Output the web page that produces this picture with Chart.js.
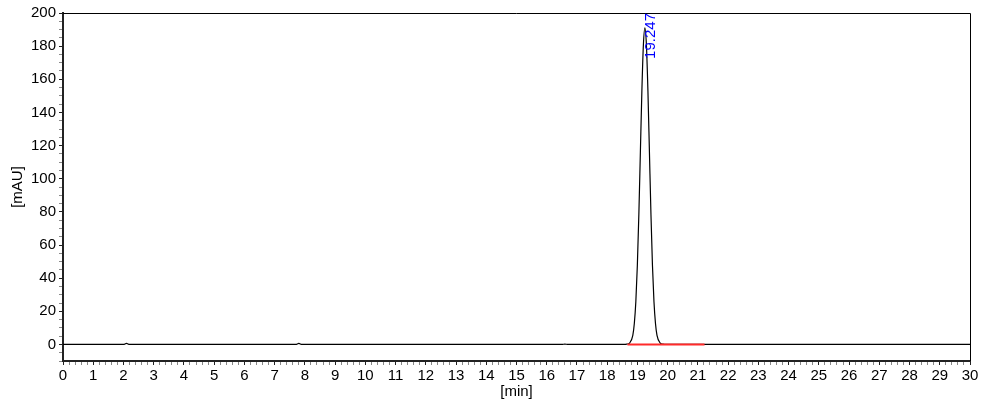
<!DOCTYPE html>
<html><head><meta charset="utf-8">
<script src="https://cdn.jsdelivr.net/npm/chart.js@4/dist/chart.umd.min.js"></script>
<style>html,body{margin:0;padding:0;background:#fff}#w{width:1002px;height:403px}</style>
</head><body><div id="w"><canvas id="c"></canvas></div>
<script>
const timeMin = [0, 2.0, 2.1, 2.2, 7.7, 7.8, 7.9, 16.5, 16.6, 16.7, 18.547, 18.647, 18.747, 18.847, 18.897, 18.947, 18.997, 19.047, 19.097, 19.147, 19.197, 19.247, 19.297, 19.347, 19.397, 19.447, 19.497, 19.547, 19.597, 19.647, 19.747, 19.847, 19.947, 30];
const signalMAU = [0, 0, 0.6, 0, 0, 0.6, 0, 0, 0.2, 0, 0, 0.2, 1.0, 5.5, 12.6, 25.8, 47.6, 78.5, 115.8, 153.0, 180.7, 191, 180.7, 153.0, 115.8, 78.5, 47.6, 25.8, 12.6, 5.5, 1.0, 0.2, 0, 0];
const baselineX = [18.67, 21.22];
const baselineY = [0, 0];
const peakLabels = [{t: 19.247, text: '19.247'}];
const xTicksMajor = 1, xTicksMinor = 0.2, yTicksMajor = 20, yTicksMinor = 5;

const isMult = (v, m) => Math.abs(v / m - Math.round(v / m)) < 1e-6;
const FONT = 'Liberation Sans, Arial, sans-serif';

const frame = {
  id: 'frame',
  afterDatasetsDraw(chart) {
    const {ctx, chartArea: a, scales} = chart;
    ctx.save();
    ctx.strokeStyle = '#000'; ctx.lineWidth = 1;
    ctx.beginPath();
    ctx.moveTo(a.left, a.top + 0.5); ctx.lineTo(a.right + 0.5, a.top + 0.5); ctx.lineTo(a.right + 0.5, a.bottom);
    ctx.stroke();
    ctx.fillStyle = '#0000ff';
    ctx.font = '15px ' + FONT;
    peakLabels.forEach(p => {
      const x = scales.x.getPixelForValue(p.t) + 6;
      ctx.save();
      ctx.translate(x, a.top);
      ctx.rotate(-Math.PI / 2);
      ctx.textAlign = 'right'; ctx.textBaseline = 'middle';
      ctx.fillText(p.text, 0, 0);
      ctx.restore();
    });
    ctx.restore();
  }
};

new Chart(document.getElementById('c'), {
  type: 'scatter',
  data: {
    datasets: [
      {data: baselineX.map((x, i) => ({x, y: baselineY[i]})), showLine: true, borderColor: '#ff2a2a', borderWidth: 2, pointRadius: 0, order: 0},
      {data: timeMin.map((x, i) => ({x, y: signalMAU[i]})), showLine: true, borderColor: '#000', borderWidth: 1.2, pointRadius: 0, cubicInterpolationMode: 'monotone', order: 1}
    ]
  },
  options: {
    responsive: true, maintainAspectRatio: false, animation: false,
    devicePixelRatio: 1,
    layout: {padding: {top: 13, right: 32, left: 9, bottom: 0}},
    plugins: {legend: {display: false}, tooltip: {enabled: false}},
    scales: {
      x: {
        type: 'linear', min: 0, max: 30,
        afterFit: s => { s.height = 42; },
        afterBuildTicks: s => { const t = []; for (let i = 0; i <= 150; i++) t.push({value: +(i * xTicksMinor).toFixed(1)}); s.ticks = t; },
        ticks: {autoSkip: false, maxRotation: 0, color: '#000', font: {family: FONT, size: 15}, padding: 2,
          callback: v => isMult(v, xTicksMajor) ? String(Math.round(v)) : ''},
        grid: {drawOnChartArea: false, tickLength: 4, tickColor: c => isMult(c.tick.value, xTicksMajor) ? '#222' : '#888'},
        border: {color: '#222', width: 2},
        title: {display: true, text: '[min]', color: '#000', font: {family: FONT, size: 15}, padding: {top: 0, bottom: 2}}
      },
      y: {
        type: 'linear', min: -10, max: 200,
        afterFit: s => { s.width = 54; },
        afterBuildTicks: s => { const t = []; for (let v = -10; v <= 200; v += yTicksMinor) t.push({value: v}); s.ticks = t; },
        ticks: {autoSkip: false, color: '#000', font: {family: FONT, size: 15}, padding: 3,
          callback: v => (isMult(v, yTicksMajor)) ? String(v) : ''},
        grid: {drawOnChartArea: false, tickLength: 4, tickColor: c => isMult(c.tick.value, yTicksMajor) ? '#222' : '#888'},
        border: {color: '#222', width: 2},
        title: {display: true, text: '[mAU]', color: '#000', font: {family: FONT, size: 15}, padding: {top: 0, bottom: 4}}
      }
    }
  },
  plugins: [frame]
});
</script></body></html>
